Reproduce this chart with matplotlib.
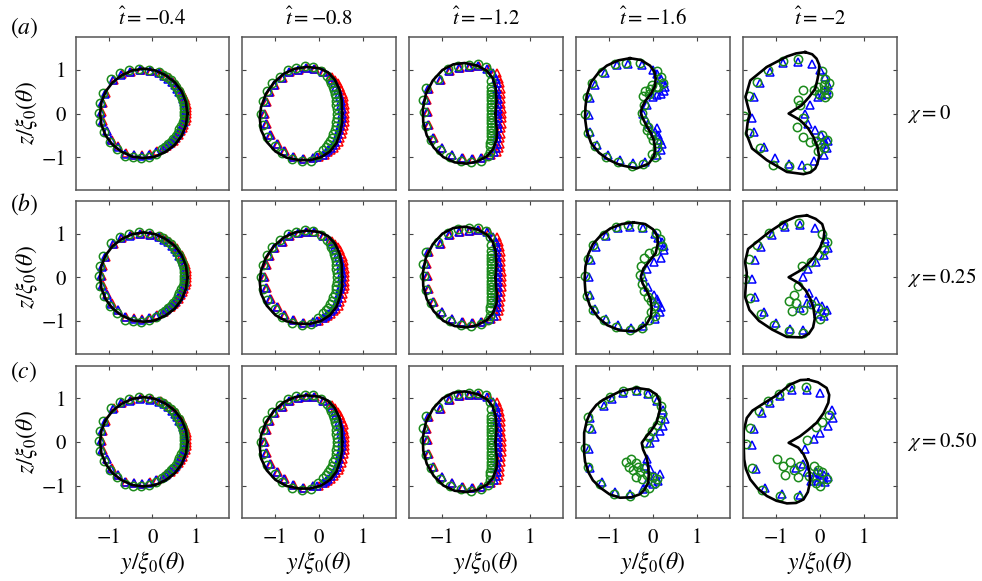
import numpy as np
import matplotlib.pyplot as plt

plt.rcParams['font.family'] = 'STIXGeneral'
plt.rcParams['mathtext.fontset'] = 'stix'

# column titles and row labels
t_hat = ['-0.4', '-0.8', '-1.2', '-1.6', '-2']
chi = ['0', '0.25', '0.50']
row_tags = ['a', 'b', 'c']

# black curves (y, z)
shape_04 = [(0.80, 0.00), (0.77, 0.26), (0.67, 0.51), (0.51, 0.72), (0.30, 0.88), (0.06, 0.99),
            (-0.20, 1.03), (-0.46, 0.99), (-0.70, 0.88), (-0.91, 0.72), (-1.07, 0.51), (-1.17, 0.26),
            (-1.20, 0.00), (-1.17, -0.26), (-1.07, -0.51), (-0.91, -0.72), (-0.70, -0.88), (-0.46, -0.99),
            (-0.20, -1.02), (0.06, -0.99), (0.30, -0.88), (0.51, -0.72), (0.67, -0.51), (0.77, -0.26)]
shape_08 = [(0.53, 0.00), (0.52, 0.30), (0.47, 0.55), (0.36, 0.78), (0.20, 0.95), (0.00, 1.04),
            (-0.29, 1.07), (-0.55, 1.03), (-0.80, 0.92), (-1.03, 0.72), (-1.22, 0.45), (-1.33, 0.15),
            (-1.36, -0.10), (-1.33, -0.38), (-1.20, -0.65), (-1.00, -0.87), (-0.75, -1.01), (-0.45, -1.07),
            (-0.20, -1.07), (0.05, -1.00), (0.25, -0.87), (0.40, -0.68), (0.49, -0.42), (0.53, -0.20)]
shape_12 = [(0.22, 0.00), (0.24, 0.30), (0.22, 0.60), (0.15, 0.82), (0.02, 0.98), (-0.20, 1.10),
            (-0.49, 1.16), (-0.75, 1.13), (-1.00, 1.00), (-1.22, 0.76), (-1.38, 0.45), (-1.45, 0.10),
            (-1.44, -0.20), (-1.36, -0.50), (-1.20, -0.78), (-0.98, -1.00), (-0.72, -1.12), (-0.45, -1.15),
            (-0.20, -1.10), (0.02, -0.98), (0.16, -0.82), (0.24, -0.60), (0.25, -0.40), (0.23, -0.20)]
shape_a16 = [(-0.53, 1.27), (-0.28, 1.23), (-0.07, 1.10), (0.03, 0.96), (0.06, 0.80), (0.04, 0.62),
             (-0.05, 0.45), (-0.17, 0.30), (-0.25, 0.15), (-0.28, 0.02), (-0.24, -0.10), (-0.15, -0.28),
             (-0.05, -0.45), (0.02, -0.62), (0.05, -0.82), (0.02, -0.98), (-0.10, -1.15), (-0.38, -1.26),
             (-0.76, -1.18), (-1.02, -1.06), (-1.24, -0.90), (-1.42, -0.68), (-1.52, -0.40), (-1.56, -0.11),
             (-1.55, 0.15), (-1.52, 0.42), (-1.42, 0.72), (-1.25, 0.94), (-1.06, 1.10), (-0.80, 1.22)]
shape_b16 = [(-0.45, 1.26), (-0.18, 1.22), (0.00, 1.10), (0.10, 0.94), (0.11, 0.78), (0.06, 0.55),
             (-0.10, 0.35), (-0.22, 0.20), (-0.28, 0.02), (-0.24, -0.14), (-0.14, -0.32), (-0.06, -0.50),
             (-0.03, -0.70), (-0.05, -0.90), (-0.15, -1.08), (-0.40, -1.24), (-0.76, -1.22), (-1.05, -1.10),
             (-1.26, -0.92), (-1.45, -0.65), (-1.55, -0.35), (-1.57, -0.05), (-1.55, 0.25), (-1.49, 0.52),
             (-1.38, 0.76), (-1.20, 0.96), (-0.98, 1.12), (-0.72, 1.22)]
shape_c16 = [(-0.38, 1.24), (-0.10, 1.20), (0.08, 1.09), (0.16, 0.92), (0.16, 0.75), (0.08, 0.44),
             (-0.05, 0.25), (-0.15, 0.13), (-0.26, -0.02), (-0.23, -0.17), (-0.15, -0.35), (-0.11, -0.55),
             (-0.10, -0.75), (-0.11, -0.93), (-0.20, -1.10), (-0.30, -1.20), (-0.50, -1.27), (-0.76, -1.28),
             (-1.00, -1.20), (-1.21, -1.05), (-1.38, -0.88), (-1.48, -0.70), (-1.56, -0.45), (-1.58, -0.25),
             (-1.58, 0.21), (-1.52, 0.48), (-1.44, 0.67), (-1.30, 0.85), (-1.14, 0.97), (-0.76, 1.16)]
shape_a20 = [(-0.34, 1.41), (-0.18, 1.36), (-0.08, 1.26), (-0.02, 1.12), (-0.02, 0.99), (-0.06, 0.78),
             (-0.11, 0.57), (-0.25, 0.38), (-0.42, 0.19), (-0.72, 0.00), (-0.46, -0.15), (-0.28, -0.33),
             (-0.15, -0.54), (-0.06, -0.76), (-0.02, -0.99), (-0.06, -1.15), (-0.11, -1.26), (-0.22, -1.35),
             (-0.38, -1.39), (-0.76, -1.34), (-1.22, -1.07), (-1.56, -0.80), (-1.69, -0.46), (-1.66, -0.20),
             (-1.61, 0.00), (-1.66, 0.18), (-1.71, 0.38), (-1.60, 0.76), (-1.22, 1.07), (-0.76, 1.31),
             (-0.55, 1.38)]
shape_b20 = [(-0.30, 1.42), (-0.10, 1.34), (0.05, 1.22), (0.10, 1.05), (0.08, 0.88), (0.00, 0.68),
             (-0.12, 0.48), (-0.28, 0.30), (-0.46, 0.15), (-0.72, 0.00), (-0.48, -0.14), (-0.33, -0.30),
             (-0.22, -0.50), (-0.15, -0.72), (-0.12, -0.95), (-0.16, -1.15), (-0.26, -1.30), (-0.42, -1.38),
             (-0.76, -1.37), (-1.10, -1.20), (-1.40, -1.00), (-1.62, -0.75), (-1.72, -0.45), (-1.70, -0.15),
             (-1.68, 0.10), (-1.72, 0.35), (-1.65, 0.65), (-1.40, 0.85), (-1.15, 1.05), (-0.80, 1.28),
             (-0.55, 1.39)]
shape_c20 = [(-0.27, 1.43), (-0.05, 1.37), (0.15, 1.24), (0.21, 1.08), (0.19, 0.90), (0.08, 0.66),
             (-0.08, 0.44), (-0.28, 0.27), (-0.46, 0.13), (-0.72, -0.02), (-0.50, -0.13), (-0.38, -0.28),
             (-0.29, -0.48), (-0.24, -0.70), (-0.23, -0.93), (-0.28, -1.15), (-0.38, -1.32), (-0.55, -1.40),
             (-0.76, -1.41), (-1.00, -1.35), (-1.22, -1.24), (-1.43, -1.07), (-1.60, -0.86), (-1.70, -0.62),
             (-1.74, -0.40), (-1.75, -0.10), (-1.75, 0.25), (-1.68, 0.55), (-1.55, 0.72), (-1.30, 0.88),
             (-1.03, 1.05), (-0.68, 1.32), (-0.45, 1.42)]

# simulation markers (y, z)
red_04 = [(-1.07, 0.47), (-1.14, 0.25), (-1.16, 0.03), (-1.14, -0.18), (-1.04, -0.39), (-0.93, -0.60),
          (-0.78, -0.75), (-0.61, -0.91), (-0.42, -0.94), (-0.24, -0.96), (-0.06, -0.93), (0.11, -0.87),
          (0.27, -0.79), (0.42, -0.68), (0.55, -0.56), (0.65, -0.41), (0.73, -0.26), (0.79, -0.10),
          (0.80, 0.05), (0.79, 0.20), (0.75, 0.35), (0.67, 0.50), (0.56, 0.66), (0.40, 0.81), (0.20, 0.93),
          (-0.03, 0.98), (-0.27, 1.00), (-0.50, 0.96), (-0.70, 0.90), (-0.89, 0.77), (0.33, -0.74),
          (0.49, -0.62), (0.60, -0.49), (0.69, -0.34), (0.77, -0.18), (0.80, -0.02), (0.80, 0.13),
          (0.77, 0.28), (0.71, 0.43), (0.62, 0.58), (0.48, 0.73), (0.30, 0.87)]
blue_04 = [(-1.08, 0.46), (-1.15, 0.24), (-1.17, 0.02), (-1.15, -0.19), (-1.05, -0.40), (-0.94, -0.61),
           (-0.79, -0.76), (-0.62, -0.92), (-0.43, -0.95), (-0.25, -0.97), (-0.08, -0.94), (0.09, -0.88),
           (0.24, -0.80), (0.39, -0.69), (0.51, -0.57), (0.61, -0.42), (0.68, -0.27), (0.74, -0.11),
           (0.75, 0.04), (0.74, 0.19), (0.70, 0.34), (0.62, 0.49), (0.51, 0.65), (0.35, 0.80), (0.16, 0.92),
           (-0.06, 0.97), (-0.29, 0.99), (-0.52, 0.95), (-0.71, 0.89), (-0.90, 0.76), (0.30, -0.75),
           (0.45, -0.63), (0.56, -0.50), (0.65, -0.35), (0.72, -0.19), (0.75, -0.03), (0.75, 0.12),
           (0.72, 0.27), (0.67, 0.42), (0.57, 0.57), (0.44, 0.72), (0.26, 0.86)]
green_04 = [(-1.13, 0.48), (-1.20, 0.25), (-1.22, 0.02), (-1.20, -0.20), (-1.10, -0.43), (-0.98, -0.65),
            (-0.82, -0.81), (-0.64, -0.97), (-0.45, -1.00), (-0.26, -1.02), (-0.08, -0.99), (0.08, -0.92),
            (0.22, -0.82), (0.36, -0.71), (0.48, -0.59), (0.58, -0.44), (0.66, -0.28), (0.72, -0.12),
            (0.73, 0.04), (0.72, 0.19), (0.68, 0.36), (0.60, 0.52), (0.49, 0.68), (0.34, 0.83), (0.15, 0.95),
            (-0.07, 1.01), (-0.30, 1.03), (-0.54, 0.99), (-0.74, 0.92), (-0.94, 0.79), (0.29, -0.77),
            (0.42, -0.65), (0.53, -0.52), (0.62, -0.36), (0.70, -0.20), (0.73, -0.04), (0.73, 0.12),
            (0.70, 0.28), (0.64, 0.44), (0.55, 0.60), (0.42, 0.76), (0.25, 0.89)]

red_08 = [(-1.12, 0.49), (-1.20, 0.27), (-1.24, 0.00), (-1.20, -0.25), (-1.11, -0.50), (-0.95, -0.69),
          (-0.79, -0.86), (-0.57, -0.99), (-0.35, -1.05), (-0.13, -1.02), (-1.01, 0.66), (-0.83, 0.81),
          (-0.66, 0.95), (-0.47, 1.01), (-0.28, 1.04), (-0.09, 1.03), (0.12, 0.95), (0.30, 0.84),
          (0.43, 0.69), (0.51, 0.54), (0.57, 0.38), (0.59, 0.19), (0.60, 0.00), (0.59, -0.19),
          (0.54, -0.38), (0.49, -0.57), (0.40, -0.72), (0.28, -0.84), (0.14, -0.94), (0.00, -1.00),
          (0.37, 0.77), (0.48, 0.62), (0.54, 0.46), (0.58, 0.28), (0.60, 0.10), (0.60, -0.10),
          (0.57, -0.28), (0.52, -0.48), (0.45, -0.65), (0.34, -0.78), (0.21, -0.89)]
blue_08 = [(-1.14, 0.49), (-1.22, 0.27), (-1.26, 0.00), (-1.22, -0.25), (-1.13, -0.50), (-0.97, -0.69),
           (-0.81, -0.86), (-0.59, -0.99), (-0.37, -1.05), (-0.15, -1.02), (-1.03, 0.66), (-0.85, 0.81),
           (-0.68, 0.95), (-0.49, 1.01), (-0.30, 1.04), (-0.11, 1.03), (0.09, 0.95), (0.24, 0.84),
           (0.36, 0.69), (0.43, 0.54), (0.49, 0.38), (0.51, 0.19), (0.52, 0.00), (0.51, -0.19),
           (0.46, -0.38), (0.41, -0.57), (0.32, -0.72), (0.21, -0.84), (0.08, -0.94), (-0.04, -1.00),
           (0.30, 0.77), (0.40, 0.62), (0.46, 0.46), (0.50, 0.28), (0.52, 0.10), (0.52, -0.10),
           (0.49, -0.28), (0.44, -0.48), (0.37, -0.65), (0.27, -0.78), (0.15, -0.89)]
green_08 = [(-1.20, 0.51), (-1.28, 0.28), (-1.32, 0.00), (-1.28, -0.27), (-1.19, -0.53), (-1.02, -0.74),
            (-0.85, -0.91), (-0.62, -1.05), (-0.40, -1.10), (-0.18, -1.08), (-1.08, 0.69), (-0.89, 0.85),
            (-0.71, 0.99), (-0.52, 1.05), (-0.33, 1.08), (-0.14, 1.07), (0.05, 0.98), (0.18, 0.86),
            (0.28, 0.70), (0.34, 0.54), (0.38, 0.38), (0.40, 0.19), (0.41, 0.00), (0.40, -0.19),
            (0.36, -0.38), (0.30, -0.55), (0.21, -0.70), (0.10, -0.83), (-0.02, -0.94), (0.24, 0.78),
            (0.32, 0.62), (0.37, 0.46), (0.40, 0.28), (0.41, 0.10), (0.41, -0.10), (0.38, -0.28),
            (0.33, -0.46), (0.26, -0.62), (0.16, -0.76)]

red_12 = [(-1.30, 0.57), (-1.36, 0.30), (-1.34, 0.04), (-1.30, -0.27), (-1.19, -0.57), (-1.00, -0.80),
          (-0.77, -0.95), (-0.54, -1.03), (-0.31, -1.05), (-0.09, -1.03), (0.12, -0.95), (-1.04, 0.76),
          (-0.82, 0.97), (-0.60, 1.05), (-0.37, 1.07), (-0.16, 1.08), (0.06, 1.03), (0.24, 0.92),
          (0.32, 0.69), (0.34, 0.46), (0.35, 0.23), (0.36, 0.00), (0.36, -0.23), (0.34, -0.46),
          (0.32, -0.69), (0.26, -0.88), (0.34, 0.57), (0.35, 0.34), (0.36, 0.11), (0.36, -0.11),
          (0.35, -0.34), (0.33, -0.57), (0.30, -0.78), (0.30, 0.80)]
blue_12 = [(-1.32, 0.57), (-1.38, 0.30), (-1.36, 0.04), (-1.32, -0.27), (-1.21, -0.57), (-1.02, -0.80),
           (-0.79, -0.95), (-0.56, -1.03), (-0.33, -1.05), (-0.11, -1.03), (0.08, -0.95), (-1.06, 0.76),
           (-0.84, 0.97), (-0.62, 1.05), (-0.39, 1.07), (-0.18, 1.08), (0.02, 1.03), (0.16, 0.92),
           (0.24, 0.69), (0.26, 0.46), (0.27, 0.23), (0.28, 0.00), (0.28, -0.23), (0.26, -0.46),
           (0.24, -0.69), (0.18, -0.88), (0.26, 0.57), (0.27, 0.34), (0.28, 0.11), (0.28, -0.11),
           (0.27, -0.34), (0.25, -0.57), (0.22, -0.78), (0.22, 0.80)]
green_12 = [(-1.38, 0.59), (-1.44, 0.31), (-1.42, 0.04), (-1.38, -0.29), (-1.26, -0.60), (-1.06, -0.84),
            (-0.82, -1.00), (-0.58, -1.09), (-0.35, -1.12), (-0.12, -1.08), (0.05, -0.98), (-1.10, 0.80),
            (-0.87, 1.02), (-0.64, 1.10), (-0.40, 1.12), (-0.19, 1.13), (0.01, 1.07), (0.10, 0.92),
            (0.12, 0.75), (0.12, 0.60), (0.11, 0.45), (0.11, 0.30), (0.11, 0.15), (0.11, 0.00),
            (0.11, -0.15), (0.11, -0.30), (0.11, -0.45), (0.11, -0.60), (0.10, -0.75), (0.08, -0.88),
            (0.12, 0.52), (0.12, 0.37), (0.11, 0.22), (0.11, 0.07), (0.11, -0.08), (0.11, -0.22),
            (0.11, -0.37), (0.11, -0.52), (0.10, -0.68)]

blue_a16 = [(-1.47, -0.04), (-1.44, 0.36), (-1.33, 0.66), (-1.10, 0.92), (-0.83, 1.12), (-0.57, 1.14),
            (-0.26, 1.12), (0.00, 0.99), (0.19, 0.80), (0.27, 0.61), (0.19, 0.46), (0.00, 0.38),
            (-0.15, 0.19), (-0.23, 0.00), (-0.11, -0.23), (0.04, -0.42), (0.16, -0.61), (0.19, -0.84),
            (-0.19, -1.11), (-0.45, -1.14), (-0.76, -1.07), (-1.03, -0.95), (-1.29, -0.73), (-1.44, -0.42),
            (0.10, 0.90), (0.24, 0.70), (0.25, 0.52), (0.10, 0.42), (0.08, -0.33), (0.12, -0.50),
            (0.20, -0.70), (0.10, -0.95)]
green_a16 = [(-1.56, -0.02), (-1.52, 0.38), (-1.39, 0.70), (-1.16, 0.95), (-0.88, 1.14), (-0.62, 1.16),
             (-0.30, 1.15), (0.08, 0.97), (0.18, 0.85), (0.22, 0.70), (0.06, 0.60), (-0.08, 0.57),
             (-0.18, 0.52), (-0.22, 0.40), (-0.10, 0.45), (-0.20, 0.20), (-0.25, 0.02), (-0.20, -0.18),
             (-0.15, -0.38), (-0.05, -0.50), (0.00, -0.60), (0.08, -0.68), (0.10, -0.78), (-0.02, -0.92),
             (0.05, -1.00), (-0.22, -1.15), (-0.48, -1.20), (-0.80, -1.12), (-1.08, -1.00), (-1.34, -0.75),
             (-1.50, -0.45), (0.12, 0.62), (-0.02, 0.66), (-0.12, -0.30)]
blue_b16 = [(-1.46, 0.00), (-1.42, 0.40), (-1.30, 0.70), (-1.07, 0.95), (-0.80, 1.12), (-0.52, 1.16),
            (-0.22, 1.12), (0.04, 1.00), (0.20, 0.82), (0.26, 0.62), (0.18, 0.45), (0.02, 0.35),
            (-0.14, 0.18), (-0.22, 0.00), (-0.12, -0.22), (0.02, -0.40), (0.12, -0.58), (0.16, -0.80),
            (-0.22, -1.12), (-0.50, -1.16), (-0.80, -1.10), (-1.08, -0.95), (-1.32, -0.72), (-1.45, -0.40),
            (0.12, 0.90), (0.24, 0.72), (0.08, -0.50), (0.18, -0.68), (0.05, -0.95)]
green_b16 = [(-1.55, 0.02), (-1.50, 0.42), (-1.37, 0.73), (-1.13, 0.98), (-0.85, 1.16), (-0.57, 1.19),
             (-0.26, 1.16), (0.06, 1.02), (0.16, 0.88), (0.20, 0.72), (0.05, 0.60), (-0.10, 0.55),
             (-0.20, 0.45), (-0.28, 0.25), (-0.30, 0.05), (-0.25, -0.15), (-0.20, -0.32), (-0.12, -0.45),
             (-0.05, -0.55), (0.02, -0.65), (-0.05, -0.80), (0.05, -0.88), (-0.10, -0.98), (-0.25, -1.17),
             (-0.52, -1.21), (-0.84, -1.14), (-1.12, -0.99), (-1.38, -0.75), (-1.52, -0.42)]
blue_c16 = [(-1.44, 0.55), (-1.40, 0.29), (-1.48, -0.17), (-1.44, -0.59), (-1.18, -0.93), (-0.87, -1.16),
            (-0.53, -1.19), (-1.12, 0.82), (-0.95, 0.99), (-0.68, 1.13), (-0.36, 1.16), (-0.11, 1.09),
            (0.08, 0.93), (0.23, 0.74), (0.27, 0.52), (0.23, 0.37), (0.16, 0.26), (0.05, 0.11),
            (-0.07, -0.03), (-0.07, -0.63), (0.05, -0.78), (0.12, -0.90), (0.00, -0.97), (-0.13, -0.93),
            (0.16, -0.74), (-0.18, -0.55), (-0.15, -0.40), (-0.22, -1.08)]
green_c16 = [(-1.50, 0.57), (-1.46, 0.31), (-1.55, -0.15), (-1.50, -0.58), (-1.22, -0.97), (-0.89, -1.20),
             (-0.53, -1.25), (-1.16, 0.86), (-0.98, 1.03), (-0.70, 1.17), (-0.38, 1.20), (-0.12, 1.13),
             (0.06, 0.98), (0.18, 0.82), (0.20, 0.65), (0.15, 0.50), (0.08, 0.38), (-0.02, 0.25),
             (-0.10, 0.12), (-0.17, -0.02), (-0.61, -0.45), (-0.50, -0.40), (-0.40, -0.48), (-0.55, -0.58),
             (-0.45, -0.65), (-0.35, -0.58), (-0.30, -0.70), (-0.40, -0.80), (-0.25, -0.85), (-0.20, -0.60),
             (-0.15, -0.75), (0.00, -0.80), (0.10, -0.85), (0.05, -0.95), (-0.10, -1.05), (-0.20, -1.15)]

blue_a20 = [(-1.52, 0.38), (-1.56, -0.11), (-1.52, -0.42), (-1.29, -0.76), (-1.03, -1.03), (-0.72, -1.16),
            (-0.42, -1.19), (-1.37, 0.69), (-1.14, 0.95), (-0.84, 1.16), (-0.50, 1.18), (-0.19, 1.14),
            (0.11, 0.84), (0.19, 0.65), (0.15, 0.46), (-0.04, 0.38), (-0.23, 0.19), (-0.34, 0.00),
            (-0.27, -0.23), (-0.11, -0.38), (0.08, -0.61), (0.15, -0.80), (0.08, -0.95), (0.00, 1.00),
            (0.17, 0.55), (0.05, 0.42), (0.02, -0.50), (0.12, -0.70), (0.18, -0.62), (-0.15, -1.10)]
green_a20 = [(-1.62, 0.40), (-1.75, -0.05), (-1.62, -0.45), (-1.37, -0.80), (-1.07, -1.18), (-0.72, -1.21),
             (-0.30, -1.26), (-1.45, 0.72), (-1.20, 0.99), (-0.84, 1.20), (-0.50, 1.25), (0.05, 0.98),
             (0.12, 0.80), (0.20, 0.70), (0.08, 0.65), (-0.05, 0.60), (-0.15, 0.55), (-0.38, 0.53),
             (-0.50, 0.30), (-0.45, 0.20), (-0.40, -0.10), (-0.53, -0.31), (-0.38, -0.54), (-0.23, -0.65),
             (-0.10, -0.62), (0.00, -0.70), (0.10, -0.78), (-0.05, -0.85), (0.05, -0.50), (0.15, -0.60),
             (0.10, 0.55), (0.18, 0.45), (-0.02, 0.45), (0.12, 0.38)]
blue_b20 = [(-1.50, 0.40), (-1.55, -0.05), (-1.50, -0.45), (-1.28, -0.80), (-1.00, -1.05), (-0.70, -1.18),
            (-0.40, -1.22), (-1.35, 0.70), (-1.10, 0.97), (-0.80, 1.16), (-0.45, 1.20), (-0.12, 1.12),
            (0.12, 0.88), (0.18, 0.68), (0.10, 0.50), (-0.10, 0.35), (-0.28, 0.18), (-0.38, 0.00),
            (-0.25, -0.35), (-0.10, -0.55), (0.05, -0.65), (0.15, -0.75), (0.10, -0.90), (-0.05, -0.85),
            (-0.30, -0.60), (-0.45, -0.70)]
green_b20 = [(-1.62, 0.42), (-1.72, -0.05), (-1.60, -0.48), (-1.35, -0.84), (-1.05, -1.10), (-0.72, -1.23),
             (-0.40, -1.27), (-1.45, 0.74), (-1.18, 1.01), (-0.84, 1.21), (-0.48, 1.25), (0.05, 1.00),
             (0.15, 0.82), (0.10, 0.62), (-0.02, 0.50), (-0.20, 0.35), (-0.42, 0.25), (-0.50, -0.20),
             (-0.60, -0.40), (-0.72, -0.55), (-0.55, -0.60), (-0.40, -0.75), (-0.20, -0.62), (-0.05, -0.70),
             (0.08, -0.80), (0.00, -0.95), (-0.65, -0.78)]
blue_c20 = [(-1.52, 0.29), (-1.56, -0.08), (-1.48, -0.63), (-1.26, -1.05), (-0.87, -1.20), (-0.46, -1.22),
            (-1.33, 0.67), (-1.14, 0.90), (-0.91, 1.05), (-0.65, 1.20), (-0.30, 1.20), (0.00, 1.13),
            (0.27, 0.74), (0.30, 0.55), (0.19, 0.36), (0.00, 0.21), (-0.15, 0.06), (-0.34, -0.17),
            (-0.10, -0.68), (0.00, -0.72), (0.10, -0.75), (0.18, -0.80), (0.05, -0.85), (-0.05, -0.90),
            (0.12, -0.92), (-0.15, -0.80), (-0.40, -0.50), (-0.55, -0.60), (-0.30, -0.70), (-0.20, -0.90)]
green_c20 = [(-1.60, 0.31), (-1.70, -0.05), (-1.55, -0.60), (-1.32, -1.10), (-0.92, -1.25), (-0.50, -1.27),
             (-1.40, 0.70), (-1.20, 0.95), (-0.95, 1.10), (-0.68, 1.25), (-0.33, 1.26), (0.20, 0.62),
             (0.05, 0.45), (-0.10, 0.35), (-0.30, 0.05), (-0.99, -0.40), (-0.85, -0.55), (-0.70, -0.45),
             (-0.60, -0.65), (-0.80, -0.75), (-0.50, -0.80), (-0.46, -0.55), (-0.15, -0.55), (-0.05, -0.65),
             (0.05, -0.70), (0.15, -0.85), (-0.10, -0.95), (0.00, -1.00), (-0.25, -0.78)]

shapes = [[shape_04, shape_08, shape_12, shape_a16, shape_a20],
          [shape_04, shape_08, shape_12, shape_b16, shape_b20],
          [shape_04, shape_08, shape_12, shape_c16, shape_c20]]
reds = [[red_04, red_08, red_12, [], []]] * 3
blues = [[blue_04, blue_08, blue_12, blue_a16, blue_a20],
         [blue_04, blue_08, blue_12, blue_b16, blue_b20],
         [blue_04, blue_08, blue_12, blue_c16, blue_c20]]
greens = [[green_04, green_08, green_12, green_a16, green_a20],
          [green_04, green_08, green_12, green_b16, green_b20],
          [green_04, green_08, green_12, green_c16, green_c20]]

W, H = 982, 581
col_left = [75.7, 242.3, 409.3, 576.3, 743.3]
row_top = [37.3, 201.0, 365.7]
pw, ph = 153.5, 152.5

fig = plt.figure(figsize=(W / 100, H / 100), dpi=100)

for r in range(3):
    for c in range(5):
        ax = fig.add_axes([col_left[c] / W, 1 - (row_top[r] + ph) / H, pw / W, ph / H])
        red = np.array(reds[r][c]).reshape(-1, 2)
        blue = np.array(blues[r][c]).reshape(-1, 2)
        green = np.array(greens[r][c]).reshape(-1, 2)
        if len(red):
            ax.plot(red[:, 0], red[:, 1], '^', ms=6, mfc='none', mec='red', mew=1.1)
        ax.plot(blue[:, 0], blue[:, 1], '^', ms=6, mfc='none', mec='blue', mew=1.1)
        ax.plot(green[:, 0], green[:, 1], 'o', ms=6, mfc='none', mec='#1b8a1b', mew=1.1)
        s = np.array(shapes[r][c] + shapes[r][c][:1])
        ax.plot(s[:, 0], s[:, 1], color='black', lw=1.9)

        ax.set_xlim(-1.76, 1.76)
        ax.set_ylim(-1.75, 1.75)
        ax.set_xticks([-1, 0, 1])
        ax.set_yticks([-1, 0, 1])
        ax.tick_params(direction='in', length=3, top=True, right=True, labelsize=15,
                       color='#444444', pad=7)
        for sp in ax.spines.values():
            sp.set_color('#555555')
            sp.set_linewidth(1.1)
        if c > 0:
            ax.set_yticklabels([])
        else:
            ax.set_yticklabels(['\u22121', '0', '1'])
            ax.set_ylabel(r'$z/\xi_0(\theta)$', fontsize=17, labelpad=1)
        if r < 2:
            ax.set_xticklabels([])
        else:
            ax.set_xticklabels(['\u22121', '0', '1'])
            ax.set_xlabel(r'$y/\xi_0(\theta)$', fontsize=17, labelpad=1)

for c in range(5):
    fig.text((col_left[c] + pw / 2) / W, 1 - 19 / H, r'$\hat{t}=$' + '\u2212' + t_hat[c][1:],
             ha='center', va='center', fontsize=15)
for r in range(3):
    fig.text(907 / W, 1 - (row_top[r] + ph / 2) / H, r'$\chi=$' + chi[r],
             ha='left', va='center', fontsize=15)
tag_y = [28, 204, 372]
for r in range(3):
    fig.text(24 / W, 1 - tag_y[r] / H, '(' + r'$' + row_tags[r] + '$' + ')',
             ha='center', va='center', fontsize=17)

fig.savefig('out.png', dpi=100)
